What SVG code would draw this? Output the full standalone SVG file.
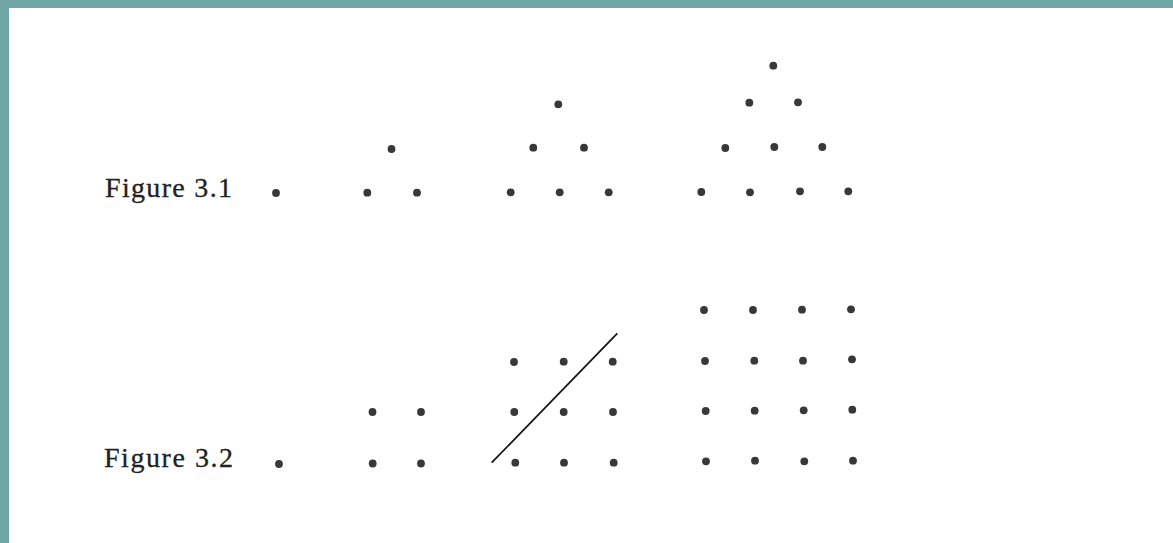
<svg xmlns="http://www.w3.org/2000/svg" width="1173" height="543" viewBox="0 0 1173 543">
<style>
.d{fill:#383838}
.t{font-family:"Liberation Serif","Times New Roman",serif;font-size:28px;fill:#222222;stroke:#222222;stroke-width:0.3}
</style>
<rect x="0" y="0" width="1173" height="543" fill="#ffffff"/>
<rect x="0" y="0" width="1173" height="8" fill="#70a6a6"/>
<rect x="0" y="0" width="9" height="543" fill="#70a6a6"/>
<g id="label-3-1"><text class="t" x="105" y="197" textLength="127" lengthAdjust="spacing">Figure 3.1</text></g>
<g id="label-3-2"><text class="t" x="104" y="467" textLength="129" lengthAdjust="spacing">Figure 3.2</text></g>
<g id="tri1">
<circle class="d" cx="276" cy="193" r="3.9"/>
</g>
<g id="tri2">
<circle class="d" cx="391.5" cy="149" r="3.9"/>
<circle class="d" cx="367.3" cy="192.7" r="3.9"/>
<circle class="d" cx="417" cy="192.7" r="3.9"/>
</g>
<g id="tri3">
<circle class="d" cx="558.3" cy="104.3" r="3.9"/>
<circle class="d" cx="533.3" cy="147.7" r="3.9"/>
<circle class="d" cx="584" cy="147.7" r="3.9"/>
<circle class="d" cx="510.7" cy="192.3" r="3.9"/>
<circle class="d" cx="559.7" cy="192.3" r="3.9"/>
<circle class="d" cx="608.7" cy="192.3" r="3.9"/>
</g>
<g id="tri4">
<circle class="d" cx="773.3" cy="65.7" r="3.9"/>
<circle class="d" cx="749.3" cy="102.7" r="3.9"/>
<circle class="d" cx="798" cy="102.3" r="3.9"/>
<circle class="d" cx="725.3" cy="148" r="3.9"/>
<circle class="d" cx="774.3" cy="147" r="3.9"/>
<circle class="d" cx="822.3" cy="147" r="3.9"/>
<circle class="d" cx="701.3" cy="192" r="3.9"/>
<circle class="d" cx="750" cy="192.3" r="3.9"/>
<circle class="d" cx="800" cy="191.3" r="3.9"/>
<circle class="d" cx="848.3" cy="191.3" r="3.9"/>
</g>
<g id="sq1">
<circle class="d" cx="279" cy="464" r="3.9"/>
</g>
<g id="sq2">
<circle class="d" cx="372.5" cy="412" r="3.9"/>
<circle class="d" cx="421" cy="412" r="3.9"/>
<circle class="d" cx="372.7" cy="463.5" r="3.9"/>
<circle class="d" cx="421" cy="463.5" r="3.9"/>
</g>
<g id="sq3">
<circle class="d" cx="514" cy="362" r="3.9"/>
<circle class="d" cx="563.7" cy="361.7" r="3.9"/>
<circle class="d" cx="612.7" cy="361.7" r="3.9"/>
<circle class="d" cx="514.3" cy="412" r="3.9"/>
<circle class="d" cx="563.7" cy="412" r="3.9"/>
<circle class="d" cx="613" cy="412" r="3.9"/>
<circle class="d" cx="515.3" cy="462.7" r="3.9"/>
<circle class="d" cx="564" cy="462.7" r="3.9"/>
<circle class="d" cx="613.7" cy="462.7" r="3.9"/>
</g>
<g id="sq4">
<circle class="d" cx="704" cy="310" r="3.9"/>
<circle class="d" cx="753" cy="310" r="3.9"/>
<circle class="d" cx="802" cy="309.7" r="3.9"/>
<circle class="d" cx="851" cy="309.3" r="3.9"/>
<circle class="d" cx="705" cy="361" r="3.9"/>
<circle class="d" cx="754.3" cy="360.7" r="3.9"/>
<circle class="d" cx="803" cy="360.7" r="3.9"/>
<circle class="d" cx="852" cy="359.3" r="3.9"/>
<circle class="d" cx="705.7" cy="411" r="3.9"/>
<circle class="d" cx="754.7" cy="410.7" r="3.9"/>
<circle class="d" cx="803.7" cy="410.3" r="3.9"/>
<circle class="d" cx="852.3" cy="409.7" r="3.9"/>
<circle class="d" cx="706" cy="461.3" r="3.9"/>
<circle class="d" cx="755" cy="460.7" r="3.9"/>
<circle class="d" cx="804.3" cy="461.3" r="3.9"/>
<circle class="d" cx="853" cy="460.7" r="3.9"/>
</g>
<g id="connectors">
<line x1="491.7" y1="462.7" x2="617.3" y2="333.3" stroke="#111" stroke-width="1.7"/>
</g>
</svg>
